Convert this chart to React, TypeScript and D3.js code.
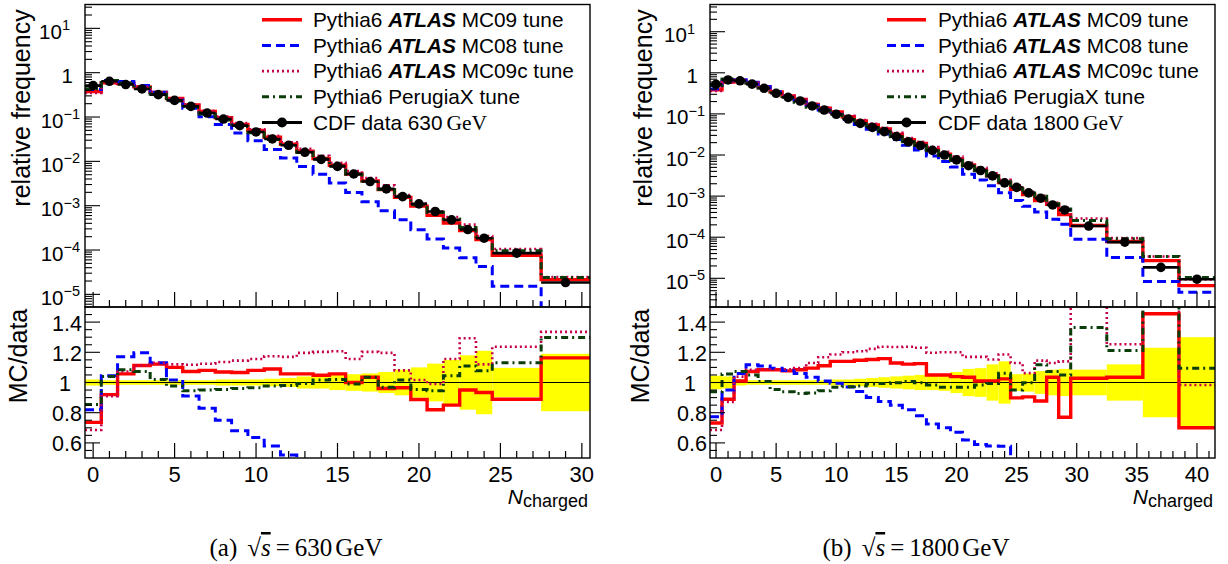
import React from "react";
import * as d3 from "d3";

// ---------------- data ----------------
const edges630 = [-0.5, 0.5, 1.5, 2.5, 3.5, 4.5, 5.5, 6.5, 7.5, 8.5, 9.5, 10.5, 11.5, 12.5, 13.5, 14.5, 15.5, 16.5, 17.5, 18.5, 19.5, 20.5, 21.5, 22.5, 23.5, 24.5, 27.5, 30.5];
const data630 = [0.51, 0.64, 0.54, 0.43, 0.32, 0.237, 0.174, 0.123, 0.09, 0.064, 0.046, 0.032, 0.023, 0.016, 0.0111, 0.0077, 0.0052, 0.0035, 0.0024, 0.0016, 0.0011, 7.4e-4, 4.8e-4, 2.9e-4, 1.85e-4, 8.5e-5, 1.85e-5];
const ratioMC09_630 = [0.736, 0.92, 1.057, 1.113, 1.122, 1.1, 1.073, 1.08, 1.07, 1.066, 1.08, 1.089, 1.057, 1.057, 1.048, 1.057, 1.0, 1.035, 0.96, 0.965, 0.887, 0.82, 0.85, 0.95, 0.934, 0.889, 1.163];
const ratioMC08_630 = [0.82, 1.044, 1.17, 1.197, 1.13, 1.017, 0.91, 0.83, 0.75, 0.68, 0.635, 0.58, 0.52, 0.48, 0.46, 0.42, 0.38, 0.35, 0.32, 0.3, 0.26, 0.24, 0.23, 0.23, 0.23, 0.18, 0];
const ratioMC09c_630 = [0.685, 0.91, 1.073, 1.113, 1.13, 1.12, 1.118, 1.124, 1.136, 1.145, 1.156, 1.174, 1.17, 1.196, 1.203, 1.207, 1.156, 1.203, 1.196, 1.08, 1.017, 0.99, 1.156, 1.293, 1.12, 1.237, 1.335];
const ratioPerugiaX_630 = [0.855, 1.04, 1.084, 1.073, 1.02, 0.976, 0.945, 0.95, 0.954, 0.96, 0.965, 0.976, 0.98, 0.994, 1.017, 1.02, 0.99, 1.035, 0.968, 1.017, 0.954, 0.945, 1.044, 1.11, 1.077, 1.13, 1.298];
const band630 = [0.02, 0.015, 0.015, 0.015, 0.015, 0.015, 0.015, 0.015, 0.02, 0.02, 0.02, 0.025, 0.03, 0.04, 0.04, 0.05, 0.055, 0.06, 0.07, 0.085, 0.1, 0.125, 0.15, 0.18, 0.21, 0.097, 0.19];

const edges1800 = [-0.5, 0.5, 1.5, 2.5, 3.5, 4.5, 5.5, 6.5, 7.5, 8.5, 9.5, 10.5, 11.5, 12.5, 13.5, 14.5, 15.5, 16.5, 17.5, 18.5, 19.5, 20.5, 21.5, 22.5, 23.5, 24.5, 25.5, 26.5, 27.5, 28.5, 29.5, 32.5, 35.5, 38.5, 41.5];
const data1800 = [0.525, 0.67, 0.64, 0.53, 0.42, 0.317, 0.253, 0.206, 0.156, 0.124, 0.098, 0.075, 0.059, 0.047, 0.037, 0.028, 0.021, 0.017, 0.013, 0.01, 0.0076, 0.0055, 0.0042, 0.0031, 0.0021, 0.00163, 0.0012, 8.9e-4, 6.1e-4, 4.6e-4, 1.87e-4, 7.6e-5, 1.85e-5, 9.5e-6];
const ratioMC09_1800 = [0.732, 0.889, 1.01, 1.073, 1.084, 1.084, 1.077, 1.084, 1.095, 1.111, 1.14, 1.14, 1.147, 1.152, 1.158, 1.129, 1.122, 1.125, 1.05, 1.05, 1.039, 1.035, 1.01, 1.01, 1.024, 0.898, 0.905, 0.877, 1.035, 0.77, 1.028, 1.035, 1.455, 0.7];
const ratioMC08_1800 = [0.774, 0.95, 1.06, 1.118, 1.11, 1.095, 1.08, 1.06, 1.035, 1.01, 0.995, 0.97, 0.94, 0.9, 0.875, 0.85, 0.82, 0.78, 0.725, 0.7, 0.67, 0.62, 0.59, 0.58, 0.577, 0.48, 0.47, 0.46, 0.45, 0.45, 0.48, 0.42, 0.45, 0.48];
const ratioMC09c_1800 = [0.685, 0.871, 1.039, 1.084, 1.088, 1.088, 1.088, 1.095, 1.129, 1.167, 1.185, 1.2, 1.207, 1.223, 1.237, 1.235, 1.237, 1.23, 1.197, 1.2, 1.2, 1.17, 1.17, 1.152, 1.185, 1.129, 1.062, 1.145, 1.129, 1.14, 1.52, 1.253, 1.83, 0.983];
const ratioPerugiaX_1800 = [0.938, 1.057, 1.073, 1.05, 1.006, 0.954, 0.938, 0.927, 0.93, 0.945, 0.968, 0.972, 0.976, 0.99, 0.994, 0.998, 1.006, 0.998, 0.983, 0.968, 0.968, 0.968, 0.983, 0.994, 1.062, 0.95, 0.998, 1.118, 1.073, 1.05, 1.365, 1.212, 1.83, 1.095];
const band1800 = [0.045, 0.04, 0.02, 0.015, 0.015, 0.015, 0.015, 0.015, 0.015, 0.015, 0.02, 0.02, 0.025, 0.03, 0.035, 0.04, 0.045, 0.05, 0.05, 0.055, 0.07, 0.09, 0.095, 0.12, 0.14, 0.055, 0.06, 0.075, 0.085, 0.09, 0.085, 0.12, 0.23, 0.3];

const legendPre = ["Pythia6 ", "Pythia6 ", "Pythia6 ", "Pythia6 PerugiaX tune"];
const legendBold = ["ATLAS", "ATLAS", "ATLAS", ""];
const legendPost = [" MC09 tune", " MC08 tune", " MC09c tune", ""];
const ratioTickLabels = ["0.6", "0.8", "1", "1.2", "1.4"];
const captions = ["(a)", "(b)"];
const energies = ["630", "1800"];

// ---------------- styles ----------------
const SANS = "'Liberation Sans', Arial, Helvetica, sans-serif";
const SERIF = "'Liberation Serif', 'Times New Roman', serif";
const seriesStyle = [
  { color: "#ff0000", width: 3.4, dash: undefined as string | undefined },
  { color: "#0000ff", width: 3, dash: "9,5" },
  { color: "#c8004b", width: 2.6, dash: "2,3" },
  { color: "#0b3d0b", width: 3, dash: "7,4,2,4" },
];

type Cfg = {
  id: string;
  fx0: number;
  fx1: number;
  xMax: number;
  edges: number[];
  data: number[];
  ratios: number[][];
  band: number[];
  logLo: number;
  logHi: number;
  titleX: number;
  legX0: number;
  legX1: number;
  legTX: number;
  energy: string;
};

const TY0 = 4.5;
const TY1 = 307;
const BY1 = 458;

function Panel({ cfg }: { cfg: Cfg }) {
  const { id, fx0, fx1, xMax, edges, data, ratios, band, logLo, logHi, titleX, legX0, legX1, legTX, energy } = cfg;
  const x = d3.scaleLinear().domain([-0.5, xMax]).range([fx0, fx1]);
  const yT = d3.scaleLog().domain([Math.pow(10, logLo), Math.pow(10, logHi)]).range([TY1, TY0]);
  const yB = d3.scaleLinear().domain([0.5, 1.5]).range([BY1, TY1]);

  const steps = (vals: number[]) => {
    const pts: [number, number][] = [];
    vals.forEach((v, i) => {
      pts.push([edges[i], v]);
      pts.push([edges[i + 1], v]);
    });
    return pts;
  };
  const lineT = d3
    .line<[number, number]>()
    .x((d) => x(d[0]))
    .y((d) => yT(Math.max(d[1], 1e-12)));
  const lineB = d3
    .line<[number, number]>()
    .x((d) => x(d[0]))
    .y((d) => Math.max(-2000, Math.min(2000, yB(d[1]))));

  const mcTop = ratios.map((r) => r.map((v, i) => v * data[i]));

  const xTicks: number[] = d3.range(0, Math.floor(xMax) + 1);
  const logTicks: { v: number; major: boolean }[] = [];
  for (let k = Math.floor(logLo); k <= Math.ceil(logHi); k++) {
    for (let m = 1; m <= 9; m++) {
      const v = m * Math.pow(10, k);
      if (Math.log10(v) >= logLo && Math.log10(v) <= logHi) logTicks.push({ v, major: m === 1 });
    }
  }
  const decadeLabels = d3.range(-5, 2);
  const ratioTicks = d3.range(1, 20).map((j) => 0.5 + 0.05 * j);
  const ratioMajor = [0.6, 0.8, 1.0, 1.2, 1.4];
  const labelX = fx0 - 5;

  return (
    <g>
      <defs>
        <clipPath id={`ct-${id}`}>
          <rect x={fx0} y={TY0} width={fx1 - fx0} height={TY1 - TY0} />
        </clipPath>
        <clipPath id={`cb-${id}`}>
          <rect x={fx0} y={TY1} width={fx1 - fx0} height={BY1 - TY1} />
        </clipPath>
      </defs>

      {/* ---- top pad ---- */}
      <g clipPath={`url(#ct-${id})`}>
        {mcTop.map((vals, s) => (
          <path
            key={s}
            d={lineT(steps(vals)) || ""}
            fill="none"
            stroke={seriesStyle[s].color}
            strokeWidth={seriesStyle[s].width}
            strokeDasharray={seriesStyle[s].dash}
          />
        ))}
        {data.map((v, i) => (
          <line key={"h" + i} x1={x(edges[i])} x2={x(edges[i + 1])} y1={yT(v)} y2={yT(v)} stroke="#000" strokeWidth={2.6} />
        ))}
        {data.map((v, i) => (
          <circle key={"c" + i} cx={x((edges[i] + edges[i + 1]) / 2)} cy={yT(v)} r={4.8} fill="#000" />
        ))}
      </g>

      {/* ---- bottom pad ---- */}
      <g clipPath={`url(#cb-${id})`}>
        {band.map((b, i) => (
          <rect
            key={"b" + i}
            x={x(edges[i])}
            width={x(edges[i + 1]) - x(edges[i])}
            y={yB(1 + b)}
            height={yB(1 - b) - yB(1 + b)}
            fill="#ffff00"
          />
        ))}
        <line x1={fx0} x2={fx1} y1={yB(1)} y2={yB(1)} stroke="#000" strokeWidth={1} />
        {ratios.map((vals, s) => (
          <path
            key={s}
            d={lineB(steps(vals)) || ""}
            fill="none"
            stroke={seriesStyle[s].color}
            strokeWidth={seriesStyle[s].width}
            strokeDasharray={seriesStyle[s].dash}
          />
        ))}
      </g>

      {/* ---- frames ---- */}
      <rect x={fx0} y={TY0} width={fx1 - fx0} height={TY1 - TY0} fill="none" stroke="#000" strokeWidth={1.4} />
      <rect x={fx0} y={TY1} width={fx1 - fx0} height={BY1 - TY1} fill="none" stroke="#000" strokeWidth={1.4} />

      {/* x ticks */}
      {xTicks.map((t) => (
        <g key={"xt" + t}>
          <line x1={x(t)} x2={x(t)} y1={TY1} y2={TY1 - (t % 5 === 0 ? 15 : 7)} stroke="#000" strokeWidth={1.2} />
          <line x1={x(t)} x2={x(t)} y1={BY1} y2={BY1 - (t % 5 === 0 ? 15 : 7)} stroke="#000" strokeWidth={1.2} />
        </g>
      ))}
      {xTicks
        .filter((t) => t % 5 === 0)
        .map((t) => (
          <text key={"xl" + t} x={x(t)} y={482} textAnchor="middle" fontFamily={SANS} fontSize={22}>
            {t}
          </text>
        ))}
      <text x={fx1 - 2} y={504} textAnchor="end" fontFamily={SANS}>
        <tspan fontStyle="italic" fontSize={21}>N</tspan>
        <tspan fontSize={18} dy={3}>charged</tspan>
      </text>

      {/* log y ticks */}
      {logTicks.map((t, i) => (
        <line key={"lt" + i} x1={fx0} x2={fx0 + (t.major ? 15 : 7)} y1={yT(t.v)} y2={yT(t.v)} stroke="#000" strokeWidth={1.1} />
      ))}
      {decadeLabels.map((k) => {
        const ty = yT(Math.pow(10, k));
        if (k === 0)
          return (
            <text key={"dl" + k} x={labelX - 7} y={ty + 10} textAnchor="end" fontFamily={SANS} fontSize={20.5}>
              1
            </text>
          );
        return (
          <text key={"dl" + k} x={k > 0 ? labelX - 10 : labelX} y={ty + 10.5} textAnchor="end" fontFamily={SANS} fontSize={20.5}>
            <tspan>10</tspan>
            <tspan fontSize={14.5} dy={-8.5}>{k < 0 ? "\u2212" + -k : String(k)}</tspan>
          </text>
        );
      })}

      {/* ratio y ticks */}
      {ratioTicks.map((v, i) => {
        const major = ratioMajor.some((m) => Math.abs(m - v) < 1e-6);
        return <line key={"rt" + i} x1={fx0} x2={fx0 + (major ? 15 : 7)} y1={yB(v)} y2={yB(v)} stroke="#000" strokeWidth={1.1} />;
      })}
      {ratioMajor.map((v, i) => (
        <text
          key={"rl" + i}
          x={ratioTickLabels[i] === "1" ? labelX - 9 : labelX + 2}
          y={yB(v) + 8.5}
          textAnchor="end"
          fontFamily={SANS}
          fontSize={21.5}
        >
          {ratioTickLabels[i]}
        </text>
      ))}

      {/* axis titles */}
      <text transform={`translate(${titleX},108) rotate(-90)`} textAnchor="middle" fontFamily={SANS} fontSize={25}>
        relative frequency
      </text>
      <text transform={`translate(${titleX - 3},356) rotate(-90)`} textAnchor="middle" fontFamily={SANS} fontSize={25}>
        MC/data
      </text>

      {/* legend */}
      {[0, 1, 2, 3, 4].map((r) => {
        const cy = 19.7 + 25.7 * r;
        const sym =
          r < 4 ? (
            <line
              x1={legX0}
              x2={legX1}
              y1={cy}
              y2={cy}
              stroke={seriesStyle[r].color}
              strokeWidth={seriesStyle[r].width}
              strokeDasharray={seriesStyle[r].dash}
            />
          ) : (
            <g>
              <line x1={legX0} x2={legX1} y1={cy} y2={cy} stroke="#000" strokeWidth={2.8} />
              <circle cx={(legX0 + legX1) / 2} cy={cy} r={5} fill="#000" />
            </g>
          );
        const txt =
          r < 4 ? (
            <text x={legTX} y={cy + 7.3} fontFamily={SANS} fontSize={20.8}>
              <tspan>{legendPre[r]}</tspan>
              {legendBold[r] ? (
                <tspan fontWeight="bold" fontStyle="italic">
                  {legendBold[r]}
                </tspan>
              ) : null}
              {legendPost[r] ? <tspan>{legendPost[r]}</tspan> : null}
            </text>
          ) : (
            <text x={legTX} y={cy + 7.3} fontFamily={SANS} fontSize={20.8}>
              <tspan>{"CDF data " + energy}</tspan>
              <tspan dx={4} fontFamily={SERIF} fontSize={21.5}>
                GeV
              </tspan>
            </text>
          );
        return (
          <g key={"lg" + r}>
            {sym}
            {txt}
          </g>
        );
      })}
    </g>
  );
}

const leftCfg: Cfg = {
  id: "a",
  fx0: 85,
  fx1: 590,
  xMax: 30.5,
  edges: edges630,
  data: data630,
  ratios: [ratioMC09_630, ratioMC08_630, ratioMC09c_630, ratioPerugiaX_630],
  band: band630,
  logLo: -5.285,
  logHi: 1.538,
  titleX: 30,
  legX0: 262,
  legX1: 302,
  legTX: 313,
  energy: energies[0],
};

const rightCfg: Cfg = {
  id: "b",
  fx0: 710,
  fx1: 1215,
  xMax: 41.5,
  edges: edges1800,
  data: data1800,
  ratios: [ratioMC09_1800, ratioMC08_1800, ratioMC09c_1800, ratioPerugiaX_1800],
  band: band1800,
  logLo: -5.698,
  logHi: 1.662,
  titleX: 652,
  legX0: 887,
  legX1: 926,
  legTX: 938,
  energy: energies[1],
};

function Caption({ cx, label, energy }: { cx: number; label: string; energy: string }) {
  return (
    <text x={cx} y={556} textAnchor="middle" fontFamily={SERIF} fontSize={25}>
      <tspan>{label}</tspan>
      <tspan dx={10}>{"\u221A"}</tspan>
      <tspan fontStyle="italic" textDecoration="overline">
        s
      </tspan>
      <tspan dx={5}>=</tspan>
      <tspan dx={5}>{energy}</tspan>
      <tspan dx={3}>GeV</tspan>
    </text>
  );
}

export default function App() {
  return (
    <svg width={1228} height={564} style={{ position: "absolute", left: 0, top: 0, background: "#fff" }}>
      <rect x={0} y={0} width={1228} height={564} fill="#fff" />
      <Panel cfg={leftCfg} />
      <Panel cfg={rightCfg} />
      <Caption cx={296} label={captions[0]} energy={energies[0]} />
      <Caption cx={916} label={captions[1]} energy={energies[1]} />
    </svg>
  );
}
